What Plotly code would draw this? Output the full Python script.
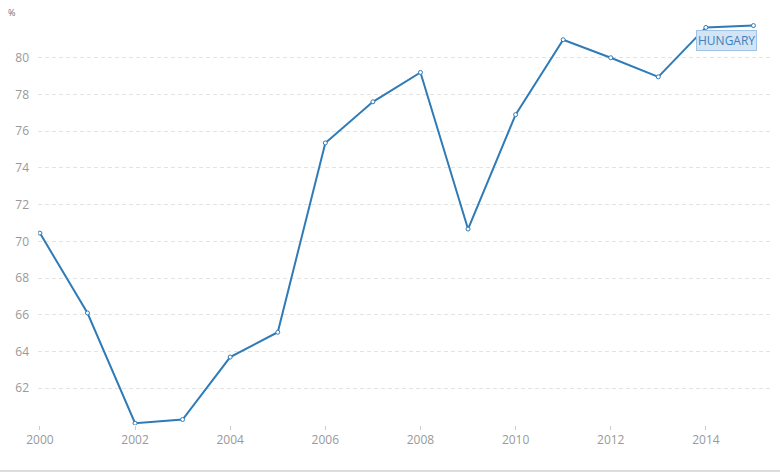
import plotly.graph_objects as go

years = list(range(2000, 2016))
values = [70.45, 66.1, 60.1, 60.3, 63.7, 65.05, 75.36, 77.6, 79.2, 70.67,
          76.9, 80.98, 80.0, 78.96, 81.65, 81.75]
y_ticks = [62, 64, 66, 68, 70, 72, 74, 76, 78, 80]
x_ticks = [2000, 2002, 2004, 2006, 2008, 2010, 2012, 2014]
series_name = "HUNGARY"

L, R, T, B = 38, 8, 21, 48
W, H = 780, 473
pw, ph = W - L - R, H - T - B

fig = go.Figure()
fig.add_trace(go.Scatter(
    x=years, y=values, mode="lines+markers", name=series_name,
    line=dict(color="#2e7bb7", width=2),
    marker=dict(size=4, color="white", line=dict(color="#2e7bb7", width=1)),
))

fig.add_annotation(
    x=years[-1], y=values[-1], xref="x", yref="y",
    text=series_name, showarrow=False, xanchor="right", yanchor="top",
    xshift=4, yshift=-4,
    font=dict(family="Open Sans", size=12, color="#3f80bd"),
    bgcolor="#d3e5f5", bordercolor="#9fc3e6", borderwidth=1, borderpad=1,
)
fig.add_annotation(
    x=-(L - 6) / pw, y=1 + (T - 4) / ph, xref="paper", yref="paper",
    xanchor="left", yanchor="top",
    text="%", showarrow=False,
    font=dict(family="Open Sans", size=9, color="#667788"),
)
fig.add_shape(type="line", xref="paper", yref="paper",
              x0=-L / pw, x1=1 + R / pw,
              y0=-(471 - (H - B)) / ph, y1=-(471 - (H - B)) / ph,
              line=dict(color="#dddddd", width=2))

fig.update_layout(
    width=W, height=H,
    margin=dict(l=L, r=R, t=T, b=B, autoexpand=False),
    paper_bgcolor="white", plot_bgcolor="white",
    showlegend=False,
    font=dict(family="Open Sans", size=12, color="#999999"),
    xaxis=dict(range=[1999.96, 2015.39], tickvals=x_ticks, showgrid=False,
               zeroline=False, showline=False, ticks="outside", ticklen=4,
               tickcolor="#cccccc", tickfont=dict(size=12, color="#999999")),
    yaxis=dict(range=[60, 82], tickvals=y_ticks, showgrid=True,
               gridcolor="#e3e3e3", griddash="4px,3px", gridwidth=1,
               zeroline=False, showline=False, ticks="", ticklabelstandoff=8,
               tickfont=dict(size=12, color="#999999")),
)

fig.write_html("out.html", config={"displayModeBar": False},
               post_script="document.body.style.margin='0';document.body.style.overflow='hidden';")
